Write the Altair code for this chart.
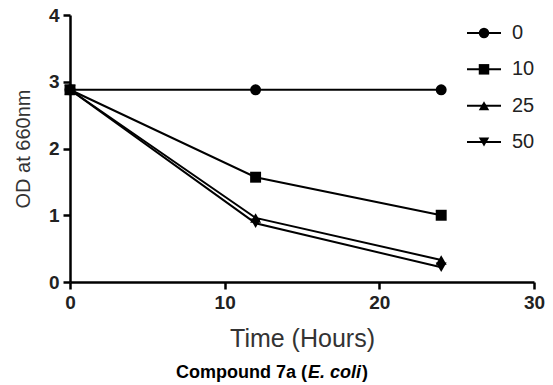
import altair as alt
import pandas as pd

# ---- data ----
times = [0, 12, 24]
series_names = ["0", "10", "25", "50"]
od_0 = [2.88, 2.88, 2.88]
od_10 = [2.88, 1.57, 1.00]
od_25 = [2.88, 0.96, 0.33]
od_50 = [2.88, 0.88, 0.22]
x_ticks = [0, 10, 20, 30]
y_ticks = [0, 1, 2, 3, 4]
legend_labels = ["\u20070", "10", "25", "50"]
shapes = ["circle", "square", "triangle-up", "triangle-down"]

rows = []
for name, vals in zip(series_names, [od_0, od_10, od_25, od_50]):
    for t, v in zip(times, vals):
        rows.append({"time": t, "od": v, "series": name})
df = pd.DataFrame(rows)
leg_df = pd.DataFrame({"series": series_names, "label": legend_labels})

FONT = "Liberation Sans"
W, H = 464, 267

shape_scale = alt.Scale(domain=series_names, range=shapes)

x_enc = alt.X("time:Q", scale=alt.Scale(domain=[0, 30]),
              axis=alt.Axis(values=x_ticks, title="Time (Hours)", titlePadding=14,
                            labelFlush=False))
y_enc = alt.Y("od:Q", scale=alt.Scale(domain=[0, 4]),
              axis=alt.Axis(values=y_ticks, format="d", title="OD at 660nm",
                            titlePadding=15, labelFlush=False))

base = alt.Chart(df).encode(x=x_enc, y=y_enc)

lines = base.mark_line(color="black", strokeWidth=2).encode(detail="series:N")

points = base.mark_point(filled=True, color="black", opacity=1, size=120).encode(
    shape=alt.Shape("series:N", scale=shape_scale, legend=None)
)
main = alt.layer(lines, points)

# ---- hand-drawn legend (line + marker + label per row) ----
leg_y = alt.Y("series:N", axis=None,
              scale=alt.Scale(type="point", domain=series_names, range=[18, 127], padding=0))
leg_base = alt.Chart(leg_df).encode(y=leg_y)
leg_rule = leg_base.mark_rule(color="black", strokeWidth=2).encode(
    x=alt.value(397), x2=alt.value(431))
leg_pts = leg_base.mark_point(filled=True, color="black", opacity=1, size=110).encode(
    x=alt.value(414), shape=alt.Shape("series:N", scale=shape_scale, legend=None))
leg_txt = leg_base.mark_text(font=FONT, fontSize=20, align="left", baseline="middle",
                             color="#222").encode(x=alt.value(442), text="label:N")
legend = alt.layer(leg_rule, leg_pts, leg_txt)

# ---- caption below the plot (mixed bold / bold-italic) ----
cap = alt.Chart(leg_df.head(1))
cap_y = 363
t1 = cap.mark_text(text="Compound 7a (", font=FONT, fontSize=18, fontWeight="bold",
                   align="right", baseline="alphabetic", color="black").encode(
    x=alt.value(237), y=alt.value(cap_y))
t2 = cap.mark_text(text="E. coli", font=FONT, fontSize=18, fontWeight="bold",
                   fontStyle="italic", align="left", baseline="alphabetic",
                   color="black").encode(x=alt.value(238), y=alt.value(cap_y))
t3 = cap.mark_text(text=")", font=FONT, fontSize=18, fontWeight="bold", align="left",
                   baseline="alphabetic", color="black").encode(
    x=alt.value(292), y=alt.value(cap_y))
caption = alt.layer(t1, t2, t3)

chart = alt.layer(main, legend, caption).resolve_scale(
    y="independent"
).properties(
    width=W, height=H,
    autosize=alt.AutoSizeParams(type="none"),
    padding={"left": 62, "top": 7, "right": 11, "bottom": 100},
).configure_view(stroke=None).configure_axis(
    domainColor="black", domainWidth=2.5, tickColor="black", tickWidth=2.5,
    tickSize=7, grid=False, labelFont=FONT, labelFontSize=19, labelFontWeight="bold",
    labelColor="#222", labelPadding=4, titleFont=FONT, titleFontWeight="normal",
    titleColor="#333", titleFontSize=25
).configure_axisY(titleFontSize=20)

chart.save("out.html", embed_options={"renderer": "svg", "actions": False})
